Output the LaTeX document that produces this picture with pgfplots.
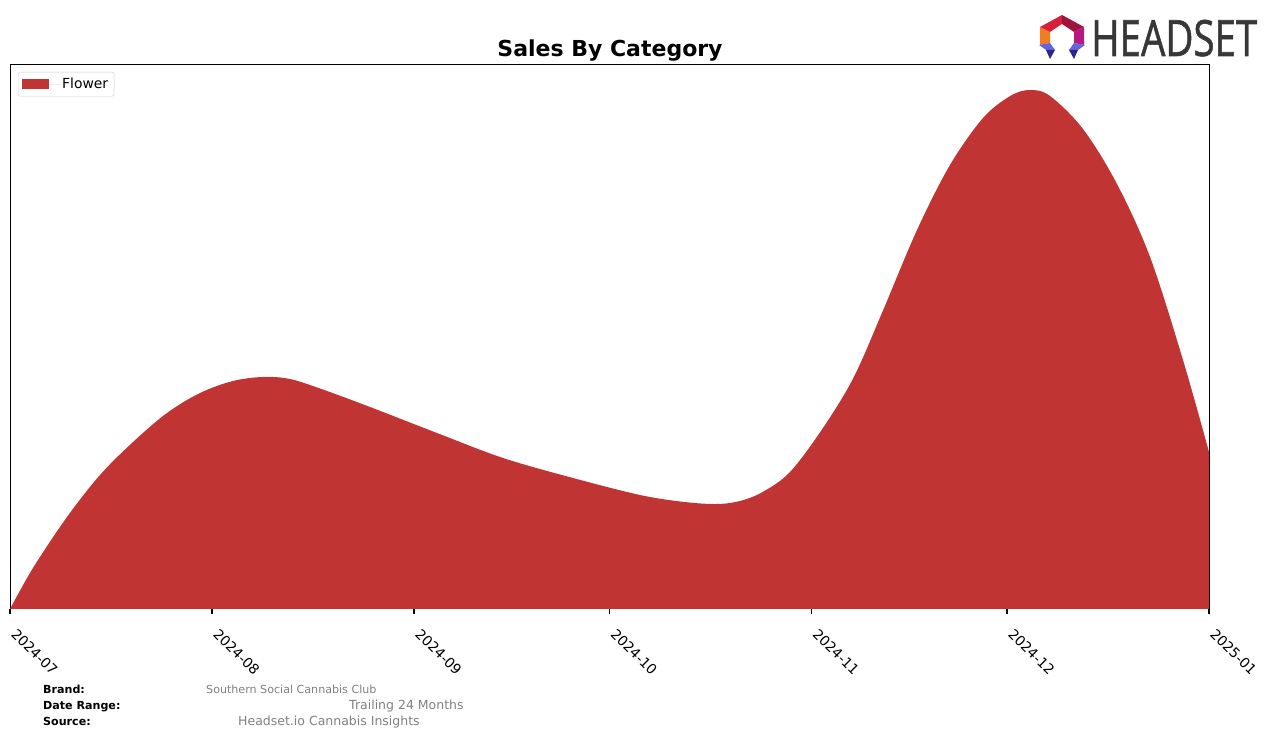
\documentclass[border=0pt]{standalone}
\usepackage{fontspec}
\setmainfont{DejaVu Sans}
\newfontfamily\headfont[FakeBold=1.2]{Open Sans}
\usepackage{pgfplots}
\pgfplotsset{compat=1.18}
\definecolor{flower}{RGB}{192,52,51}
\definecolor{logogray}{RGB}{55,55,55}
\definecolor{lorange}{RGB}{244,124,32}
\definecolor{lred}{RGB}{214,32,60}
\definecolor{lcrimson}{RGB}{160,20,60}
\definecolor{lmagenta}{RGB}{180,26,128}
\definecolor{lblue}{RGB}{100,100,220}
\definecolor{lnavy}{RGB}{45,40,135}
\begin{document}
\begin{tikzpicture}[x=1pt,y=1pt]
\useasboundingbox (0,0) rectangle (1276,738);
\begin{axis}[
  at={(10pt,129pt)}, anchor=south west,
  scale only axis, width=1199pt, height=544pt,
  xmin=0, xmax=184, ymin=0, ymax=544,
  axis line style={line width=1pt, black},
  xtick={0,31,62,92,123,153,184},
  xticklabels={2024-07,2024-08,2024-09,2024-10,2024-11,2024-12,2025-01},
  ytick=\empty,
  xtick pos=lower,
  tick align=outside,
  major tick length=5pt,
  tick style={line width=1.1pt, black},
  xticklabel style={rotate=-45, anchor=north west, font=\fontsize{13.9}{16}\selectfont, inner sep=0pt, xshift=15pt, yshift=-4pt},
  /pgf/number format/assume math mode=true,
  legend style={at={(0,1)}, anchor=north west, xshift=8pt, yshift=-7pt,
    draw={rgb,255:red,204;green,204;blue,204}, rounded corners=2pt,
    font=\fontsize{13.9}{16}\selectfont, inner xsep=4pt, inner ysep=4pt},
  legend cell align=left,
  legend image code/.code={\path[fill=flower, sharp corners] (0pt,-5pt) rectangle (27pt,5pt); \path (0pt,0pt) -- (38pt,0pt);},
]
\addplot[fill=flower, draw=none, smooth, tension=0.55] coordinates {
(0,0) (3.53,41) (8.75,92) (13.81,134) (18.88,167) (24.09,196) (29.16,216)
(34.22,228) (38.83,232) (42.97,230) (48,219.5) (55.25,202) (65.53,176)
(75.66,151) (86.40,131) (96.68,114) (103.5,107) (108.5,105) (112.03,108)
(115.5,117) (119.70,137) (124.76,181) (129.5,232) (134,299) (139.19,379)
(144.25,444) (149.32,491) (153.5,513) (156.53,519) (159.60,513) (164.66,480)
(169.88,425) (174.95,352) (180.01,249) (184,157)
} \closedcycle;
\addlegendentry{Flower}
\end{axis}
% title
\node[anchor=base, inner sep=0pt, font=\fontsize{22}{26}\selectfont\bfseries] at (610,681) {Sales By Category};
% footer
\node[anchor=base west, inner sep=0pt, font=\fontsize{11.1}{13}\selectfont\bfseries] at (43,44) {Brand:};
\node[anchor=base west, inner sep=0pt, font=\fontsize{11.1}{13}\selectfont\bfseries] at (43,28) {Date Range:};
\node[anchor=base west, inner sep=0pt, font=\fontsize{11.1}{13}\selectfont\bfseries] at (43,12) {Source:};
\node[anchor=base west, inner sep=0pt, text=gray, font=\fontsize{11.1}{13}\selectfont] at (206,44) {Southern Social Cannabis Club};
\node[anchor=base west, inner sep=0pt, text=gray, font=\fontsize{12.5}{15}\selectfont] at (349,28) {Trailing 24 Months};
\node[anchor=base west, inner sep=0pt, text=gray, font=\fontsize{12.5}{15}\selectfont] at (238,12) {Headset.io Cannabis Insights};
% logo
\begin{scope}[yscale=-1, yshift=-738pt]
\fill[lorange] (1040,27) -- (1050,32) -- (1050,43) -- (1040,45) -- cycle;
\fill[lred] (1040,27) -- (1062,15) -- (1062,24) -- (1050,32) -- cycle;
\fill[lcrimson] (1062,15) -- (1084,27) -- (1074,32) -- (1062,24) -- cycle;
\fill[lmagenta] (1084,27) -- (1084,45) -- (1074,43) -- (1074,32) -- cycle;
\fill[lblue] (1039,45) -- (1050,43) -- (1055,50) -- (1046,50) -- cycle;
\fill[lnavy] (1046,50) -- (1055,50) -- (1050,59) -- cycle;
\fill[lblue] (1085,45) -- (1074,43) -- (1069,50) -- (1078,50) -- cycle;
\fill[lnavy] (1078,50) -- (1069,50) -- (1074,59) -- cycle;
\end{scope}
\node[anchor=base west, inner sep=0pt, text=logogray] at (1091,682) {\scalebox{0.77}[1]{\headfont\fontsize{50}{55}\selectfont HEADSET}};
\end{tikzpicture}
\end{document}
